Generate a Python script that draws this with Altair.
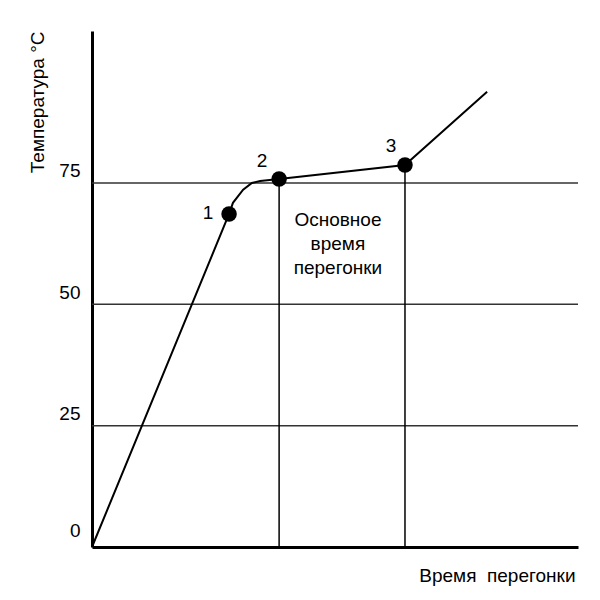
import altair as alt
import pandas as pd

# main curve (time, temperature)
curve_x = [0, 28.2, 29.0, 31.1, 32.9, 34.6, 38.5, 64.4, 81.3]
curve_y = [0, 68.6, 70.9, 73.6, 75.0, 75.4, 75.8, 78.7, 93.8]

# marked points
pt_x = [28.2, 38.5, 64.4]
pt_y = [68.6, 75.8, 78.7]
pt_lab = ["1", "2", "3"]

# vertical markers (start / end of main distillation)
vx = [38.5, 64.4]
vy = [75.8, 78.7]

grid_vals = [25, 50, 75]

note_x = [50.6]
note_y = [67.4]
note_txt = ["Основное\nвремя\nперегонки"]

FONT = "Liberation Sans"
FS = 19

curve = pd.DataFrame({"x": curve_x, "y": curve_y, "i": range(len(curve_x))})
pts = pd.DataFrame({"x": pt_x, "y": pt_y, "lab": pt_lab})
vr = pd.DataFrame({"x": vx, "y": vy, "y0": [0] * len(vx)})
grid = pd.DataFrame({"y": grid_vals})
note = pd.DataFrame({"x": note_x, "y": note_y, "t": note_txt})

xs = alt.Scale(domain=[0, 100], nice=False, zero=False)
ys = alt.Scale(domain=[0, 106.3], nice=False)

base_x = alt.X("x:Q", scale=xs, axis=alt.Axis(
    title="Время\u00a0\u00a0перегонки", labels=False, ticks=False, grid=False,
    domainColor="black", domainWidth=3,
    titleAnchor="end", titleFont=FONT, titleFontSize=FS, titleFontWeight="normal",
    titleColor="black", titleY=34, titleX=483, titleAlign="right",
    titleBaseline="alphabetic"))

gridl = alt.Chart(grid).mark_rule(color="#333333", strokeWidth=1.5).encode(
    y=alt.Y("y:Q", scale=ys, axis=alt.Axis(
        values=[0, 25, 50, 75], title="Температура °С", ticks=False, grid=False,
        domainColor="black", domainWidth=3, labelFont=FONT, labelFontSize=FS,
        labelColor="black", labelPadding=12,
        labelOffset={"condition": {"test": "datum.value == 0", "value": -17},
                     "value": -12},
        titleFont=FONT, titleFontSize=FS, titleFontWeight="normal", titleColor="black",
        titleAnchor="end", titleX=-55, titleBaseline="middle", titleAlign="right")),
    x=alt.value(0), x2=alt.value(486))

vrules = alt.Chart(vr).mark_rule(color="black", strokeWidth=1.5).encode(
    x=base_x, y=alt.Y("y0:Q", scale=ys), y2="y:Q")

line = alt.Chart(curve).mark_line(color="black", strokeWidth=2).encode(
    x=alt.X("x:Q", scale=xs), y=alt.Y("y:Q", scale=ys), order="i:Q")

dots = alt.Chart(pts).mark_point(filled=True, color="black", size=240, opacity=1).encode(
    x=alt.X("x:Q", scale=xs), y=alt.Y("y:Q", scale=ys))

lab_dx = [-21, -17, -14]
lab_dy = [-1, -18, -19]
labs = []
for i in range(3):
    labs.append(alt.Chart(pts.iloc[[i]]).mark_text(
        font=FONT, fontSize=FS, color="black", dx=lab_dx[i], dy=lab_dy[i]).encode(
        x=alt.X("x:Q", scale=xs), y=alt.Y("y:Q", scale=ys), text="lab:N"))

notes = alt.Chart(note).mark_text(
    font=FONT, fontSize=FS, color="black", lineBreak="\n", baseline="middle",
    lineHeight=24, align="center").encode(
    x=alt.X("x:Q", scale=xs), y=alt.Y("y:Q", scale=ys), text="t:N")

chart = alt.layer(gridl, vrules, line, dots, *labs, notes).properties(
    width=486, height=516,
    autosize=alt.AutoSizeParams(type="none"),
    padding={"left": 92, "top": 31, "right": 22, "bottom": 53},
    background="white",
).configure_view(stroke=None)

chart.save("out.html", embed_options={"renderer": "svg", "actions": False})
